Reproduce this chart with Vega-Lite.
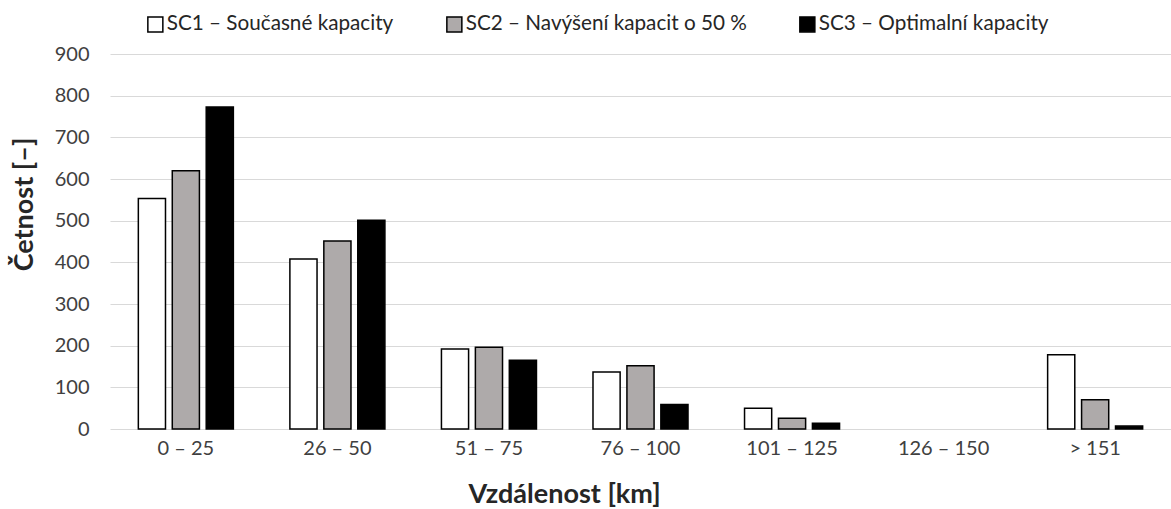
{
  "$schema": "https://vega.github.io/schema/vega-lite/v6.json",
  "width": 1061,
  "height": 375,
  "autosize": {"type": "none"},
  "padding": {"left": 110, "top": 54, "right": 0, "bottom": 80},
  "background": "white",
  "data": {
    "values": [
      {"k": "0 – 25", "s": "SC1 – Současné kapacity", "v": 553},
      {"k": "0 – 25", "s": "SC2 – Navýšení kapacit o 50 %", "v": 620},
      {"k": "0 – 25", "s": "SC3 – Optimalní kapacity", "v": 773},
      {"k": "26 – 50", "s": "SC1 – Současné kapacity", "v": 408},
      {"k": "26 – 50", "s": "SC2 – Navýšení kapacit o 50 %", "v": 451},
      {"k": "26 – 50", "s": "SC3 – Optimalní kapacity", "v": 501},
      {"k": "51 – 75", "s": "SC1 – Současné kapacity", "v": 192},
      {"k": "51 – 75", "s": "SC2 – Navýšení kapacit o 50 %", "v": 196},
      {"k": "51 – 75", "s": "SC3 – Optimalní kapacity", "v": 165},
      {"k": "76 – 100", "s": "SC1 – Současné kapacity", "v": 137},
      {"k": "76 – 100", "s": "SC2 – Navýšení kapacit o 50 %", "v": 152},
      {"k": "76 – 100", "s": "SC3 – Optimalní kapacity", "v": 59},
      {"k": "101 – 125", "s": "SC1 – Současné kapacity", "v": 50},
      {"k": "101 – 125", "s": "SC2 – Navýšení kapacit o 50 %", "v": 26},
      {"k": "101 – 125", "s": "SC3 – Optimalní kapacity", "v": 14},
      {"k": "126 – 150", "s": "SC1 – Současné kapacity", "v": 0},
      {"k": "126 – 150", "s": "SC2 – Navýšení kapacit o 50 %", "v": 0},
      {"k": "126 – 150", "s": "SC3 – Optimalní kapacity", "v": 0},
      {"k": "> 151", "s": "SC1 – Současné kapacity", "v": 178},
      {"k": "> 151", "s": "SC2 – Navýšení kapacit o 50 %", "v": 70},
      {"k": "> 151", "s": "SC3 – Optimalní kapacity", "v": 7}
    ]
  },
  "mark": {"type": "bar", "stroke": "black", "strokeWidth": 1.5},
  "encoding": {
    "x": {
      "field": "k",
      "type": "nominal",
      "sort": null,
      "scale": {"paddingInner": 0.373, "paddingOuter": 0.187},
      "axis": {
        "title": "Vzdálenost [km]",
        "labelAngle": 0,
        "labelFont": "Lato",
        "labelFontSize": 20,
        "labelColor": "#404040",
        "labelPadding": 9,
        "ticks": false,
        "domain": false,
        "titleFont": "Lato",
        "titleFontSize": 27,
        "titleFontWeight": "bold",
        "titleColor": "#262626",
        "titleX": 454,
        "titleY": 73,
        "titleBaseline": "alphabetic",
        "titleAnchor": null,
        "titleAlign": "center"
      }
    },
    "xOffset": {
      "field": "s",
      "type": "nominal",
      "sort": null,
      "scale": {"paddingInner": 0.2, "paddingOuter": 0}
    },
    "y": {
      "field": "v",
      "type": "quantitative",
      "scale": {"domain": [0, 900]},
      "axis": {
        "title": "Četnost [–]",
        "values": [0, 100, 200, 300, 400, 500, 600, 700, 800, 900],
        "labelFont": "Lato",
        "labelFontSize": 20,
        "labelColor": "#404040",
        "labelPadding": 21,
        "ticks": false,
        "domain": false,
        "gridColor": "#d9d9d9",
        "gridWidth": 1.2,
        "titleFont": "Lato",
        "titleFontSize": 27,
        "titleFontWeight": "bold",
        "titleColor": "#262626",
        "titleX": -78,
        "titleY": 150,
        "titleBaseline": "alphabetic",
        "titleAnchor": null,
        "titleAlign": "center",
        "titleAngle": 270
      }
    },
    "fill": {
      "field": "s",
      "type": "nominal",
      "sort": null,
      "scale": {"range": ["#ffffff", "#aeaaaa", "#000000"]},
      "legend": {
        "title": null,
        "orient": "none",
        "legendX": 35,
        "legendY": -40,
        "direction": "horizontal",
        "symbolType": "square",
        "symbolSize": 225,
        "symbolStrokeColor": "black",
        "symbolStrokeWidth": 1.5,
        "labelFont": "Lato",
        "labelFontSize": 20.7,
        "labelColor": "#262626",
        "labelOffset": 1,
        "columnPadding": 49,
        "labelLimit": 500
      }
    },
    "opacity": {
      "condition": {"test": "datum.v === 0", "value": 0},
      "value": 1
    }
  },
  "config": {"view": {"stroke": null}}
}
